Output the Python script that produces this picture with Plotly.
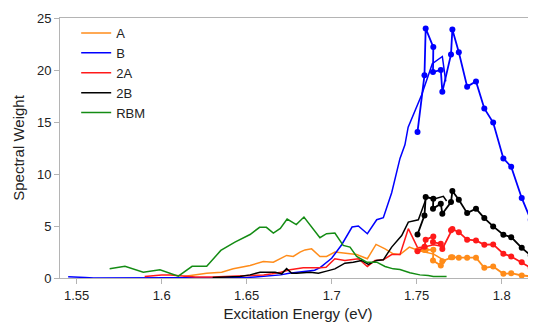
import plotly.graph_objects as go

# ---- continuous spectra (lines) ----
a_x = [1.6128, 1.62, 1.6265, 1.6353, 1.6421, 1.652, 1.6598, 1.6657, 1.6735, 1.6774, 1.6814, 1.6843, 1.6882,
       1.6931, 1.697, 1.7019, 1.7147, 1.721, 1.7261, 1.7314, 1.7362, 1.7402, 1.7457, 1.751, 1.7549, 1.76, 1.7671]
a_y = [0.14, 0.3, 0.46, 0.56, 0.88, 1.2, 1.59, 1.52, 2.17, 2.07, 2.49, 2.7, 2.8,
       2.07, 2.07, 2.49, 2.26, 1.85, 3.23, 2.8, 2.33, 2.26, 2.97, 2.65, 2.5, 2.3, 1.6]

b_x = [1.545, 1.548, 1.552, 1.555, 1.56, 1.57, 1.58, 1.59, 1.6, 1.61, 1.62, 1.63, 1.64, 1.65, 1.655, 1.66,
       1.665, 1.67, 1.675, 1.68, 1.685, 1.69, 1.6932, 1.7, 1.7059, 1.712, 1.7157, 1.721, 1.7265, 1.7304,
       1.7353, 1.7402, 1.7431, 1.745, 1.7529, 1.7592, 1.7651, 1.7671]
b_y = [0.12, 0.12, 0.1, 0.05, 0.0, 0.0, 0.0, 0.0, 0.0, 0.0, 0.0, 0.0, 0.02, 0.05, 0.1, 0.15,
       0.2, 0.3, 0.45, 0.55, 0.6, 0.75, 1.0, 1.9, 3.2, 4.9, 5.0, 4.26, 5.6, 5.8,
       8.2, 11.5, 12.8, 14.5, 17.6, 20.6, 21.3, 18.9]

r_x = [1.59, 1.595, 1.6, 1.605, 1.61, 1.62, 1.63, 1.64, 1.65, 1.655, 1.66, 1.665, 1.67, 1.6755, 1.6833,
       1.6931, 1.6967, 1.7019, 1.7078, 1.7157, 1.721, 1.7255, 1.7304, 1.7353, 1.7402, 1.7451, 1.7506,
       1.755, 1.76, 1.7665]
r_y = [0.15, 0.25, 0.3, 0.3, 0.25, 0.1, 0.1, 0.15, 0.2, 0.25, 0.3, 0.4, 0.55, 0.79, 0.98,
       0.98, 1.04, 1.85, 1.69, 1.85, 1.11, 1.69, 1.75, 2.26, 2.26, 4.74, 2.9,
       3.0, 3.2, 3.0]

k_x = [1.63, 1.64, 1.6461, 1.652, 1.6579, 1.6618, 1.6667, 1.6706, 1.6735, 1.6765, 1.6794, 1.6873, 1.6922,
       1.697, 1.7019, 1.7078, 1.7127, 1.7176, 1.7216, 1.7265, 1.7304, 1.7353, 1.7412, 1.7451, 1.751,
       1.7559, 1.7608, 1.7657, 1.7676]
k_y = [0.05, 0.1, 0.14, 0.3, 0.56, 0.56, 0.56, 0.4, 0.9, 0.46, 0.46, 0.56, 0.46,
       0.66, 0.88, 1.43, 1.52, 1.69, 1.3, 1.69, 1.75, 2.97, 4.09, 5.38, 5.6,
       7.78, 7.63, 7.85, 7.4]

g_x = [1.5694, 1.5784, 1.5892, 1.599, 1.6098, 1.6179, 1.6265, 1.6348, 1.6431, 1.652, 1.6576, 1.6616,
       1.6657, 1.6698, 1.6738, 1.6792, 1.6837, 1.6931, 1.697, 1.7019, 1.7068, 1.7108, 1.7147, 1.7206,
       1.7265, 1.7314, 1.7362, 1.7402, 1.746, 1.7519, 1.7568, 1.7598, 1.7676]
g_y = [0.9, 1.12, 0.56, 0.79, 0.17, 1.12, 1.12, 2.65, 3.45, 4.18, 4.87, 4.87,
       4.32, 4.77, 5.67, 5.13, 5.86, 3.87, 4.26, 4.32, 3.13, 2.97, 2.07, 1.52,
       1.52, 1.11, 0.88, 0.82, 0.5, 0.3, 0.24, 0.14, 0.14]

# ---- measured points (lines + markers) ----
m_x = [1.7505, 1.7546, 1.7553, 1.7598, 1.7596, 1.7642, 1.7651, 1.7702, 1.771, 1.7748, 1.7797, 1.7849,
       1.7898, 1.795, 1.801, 1.8056, 1.8118, 1.8171]
ma_y = [2.65, 2.7, 2.72, 2.72, 1.69, 1.2, 1.62, 2.0, 2.0, 1.95, 1.95, 1.95,
        0.98, 1.1, 0.4, 0.46, 0.24, 0.17]
mb_y = [14.05, 19.5, 24.0, 22.2, 19.8, 20.0, 17.9, 21.5, 23.9, 21.7, 18.4, 18.9,
        16.3, 14.95, 11.5, 10.7, 7.7, 5.6]
mr_y = [2.58, 3.0, 3.68, 4.0, 3.45, 3.29, 2.8, 4.58, 4.7, 4.41, 3.68, 3.61,
        3.2, 3.23, 2.33, 2.07, 1.52, 0.98]
mk_y = [4.19, 6.02, 7.78, 7.63, 6.67, 7.15, 6.18, 7.3, 8.36, 7.53, 6.24, 6.67,
        5.76, 4.96, 4.16, 3.93, 2.9, 2.17]

names = ["A", "B", "2A", "2B", "RBM"]
colors = ["#ff8c1a", "#0000ff", "#ff1a1a", "#000000", "#148c14"]

fig = go.Figure()
line_data = [(a_x, a_y), (b_x, b_y), (r_x, r_y), (k_x, k_y), (g_x, g_y)]
for (xs, ys), n, c in zip(line_data, names, colors):
    fig.add_trace(go.Scatter(x=xs, y=ys, mode="lines", name=n,
                             line=dict(color=c, width=1.5)))

for ys, c in zip([ma_y, mb_y, mr_y, mk_y], colors[:4]):
    fig.add_trace(go.Scatter(x=m_x, y=ys, mode="lines+markers", showlegend=False,
                             line=dict(color=c, width=1.8),
                             marker=dict(color=c, size=6)))

axis_common = dict(showline=True, linecolor="#b4b4b4", linewidth=1, ticks="outside",
                   tickcolor="#b4b4b4", ticklen=5, showgrid=False, zeroline=False,
                   tickfont=dict(size=13, color="#222222"))

# The page body adds an 8px offset, so the figure is sized to fill the rest of the window.
fig.update_layout(
    width=528, height=318,
    margin=dict(l=52, r=0, t=10, b=48),
    paper_bgcolor="white", plot_bgcolor="white",
    font=dict(family="Liberation Sans, Arial, sans-serif", color="#222222"),
    xaxis=dict(range=[1.5402, 1.8202], tickvals=[1.55, 1.6, 1.65, 1.7, 1.75, 1.8],
               ticktext=["1.55", "1.6", "1.65", "1.7", "1.75", "1.8"], mirror=True,
               title=dict(text="Excitation Energy (eV)", font=dict(size=15), standoff=6),
               **axis_common),
    yaxis=dict(range=[0, 25], tickvals=[0, 5, 10, 15, 20, 25],
               title=dict(text="Spectral Weight", font=dict(size=15), standoff=8),
               **axis_common),
    legend=dict(x=0.034, y=1.0, xanchor="left", yanchor="top",
                bgcolor="rgba(0,0,0,0)", font=dict(size=13, color="#222222"),
                itemwidth=30, tracegroupgap=0),
    showlegend=True,
)

fig.write_html("out.html")
